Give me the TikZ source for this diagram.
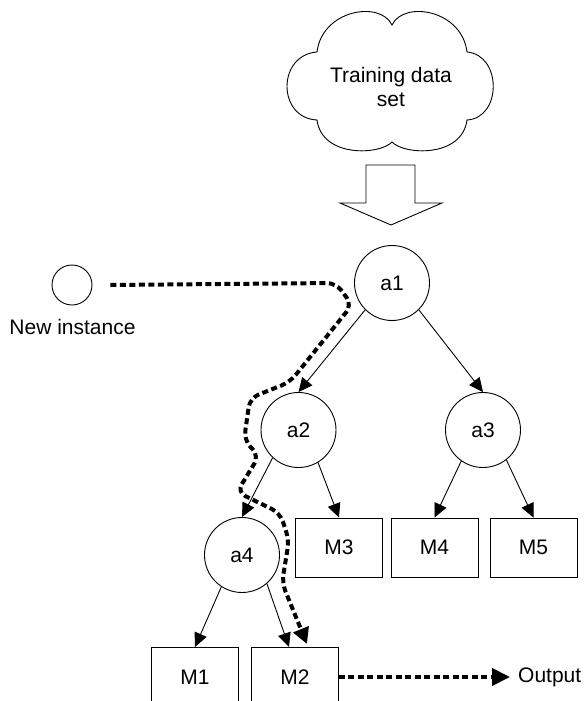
\documentclass[tikz,border=0pt]{standalone}
\usepackage{fontspec}
\setmainfont{Liberation Sans}
\usetikzlibrary{arrows.meta}
\begin{document}
\begin{tikzpicture}[x=1pt,y=-1pt,
  every node/.style={font=\fontsize{21pt}{23.5pt}\selectfont, inner sep=0pt},
  attr/.style={circle, draw, line width=0.9pt, minimum size=75pt},
  model/.style={draw, line width=0.9pt, minimum width=87pt, minimum height=59pt},
  edge/.style={line width=0.9pt, -{Triangle[length=14pt,width=13pt]}},
  path/.style={line width=4pt, dash pattern=on 6pt off 3.5pt, -{Triangle[length=16pt,width=16pt]}, rounded corners=9pt}
]
\clip (0,0) rectangle (587,701);
\fill[white] (0,0) rectangle (587,701);
% cloud
\draw[line width=0.9pt] (317,52) .. controls (322,10) and (380,0) .. (392,25)
  .. controls (404,0) and (462,10) .. (467,52)
  .. controls (502,55) and (502,118) .. (467,120)
  .. controls (462,158) and (404,155) .. (392,142)
  .. controls (380,155) and (322,158) .. (317,120)
  .. controls (277,118) and (277,55) .. (317,52) -- cycle;
\node[align=center] (data) at (391,87) {Training data\\set};
% block arrow
\draw[line width=0.9pt] (366,165) -- (415,165) -- (415,203) -- (442,203) -- (391,225) -- (340,203) -- (366,203) -- cycle;
% nodes
\node[circle, draw, line width=0.9pt, minimum size=40pt] (ni) at (72,285) {};
\node (nil) at (72.5,327) {New instance};
\node[attr] (a1) at (392,283) {a1};
\node[attr] (a2) at (298.5,430) {a2};
\node[attr] (a3) at (483,430) {a3};
\node[attr] (a4) at (242,555) {a4};
\node[model] (m3) at (339,547.5) {M3};
\node[model] (m4) at (434.5,547.5) {M4};
\node[model] (m5) at (533.5,547.5) {M5};
\node[model, anchor=north] (m1) at (195,647) {};
\node (m1l) at (195,677) {M1};
\node[model, anchor=north] (m2) at (295,647) {};
\node (m2l) at (295,677) {M2};
\node[anchor=west] (out) at (518,677) {Output};
% edges
\draw[edge] (a1.225) -- (a2.north);
\draw[edge] (a1.-45) -- (a3.north);
\draw[edge] (a2.227) -- (a4.north);
\draw[edge] (a2.-59) -- (m3.north);
\draw[edge] (a3.235) -- (m4.north);
\draw[edge] (a3.-52) -- (m5.north);
\draw[edge] (a4.237) -- (m1.north);
\draw[edge] (a4.-49) -- ([xshift=-6pt]m2.north);
% dashed path
\coordinate (p1) at (336,283);
\coordinate (p2) at (352,305);
\coordinate (p3) at (290,382);
\coordinate (p4) at (250,398);
\coordinate (p5) at (244,440);
\coordinate (p6) at (259,456);
\coordinate (p7) at (237,492);
\coordinate (p8) at (280,513);
\coordinate (p9) at (289,540);
\coordinate (p10) at (282,583);
\draw[path] ([xshift=18pt]ni.east) -- (p1) -- (p2) -- (p3) -- (p4) -- (p5) -- (p6) -- (p7) -- (p8) -- (p9) -- (p10) -- ([xshift=12pt,yshift=3pt]m2.north);
\draw[path, -{Triangle[length=18pt,width=17pt]}] (m2.east |- m2l) -- ([xshift=-8pt]out.west);
\end{tikzpicture}
\end{document}
